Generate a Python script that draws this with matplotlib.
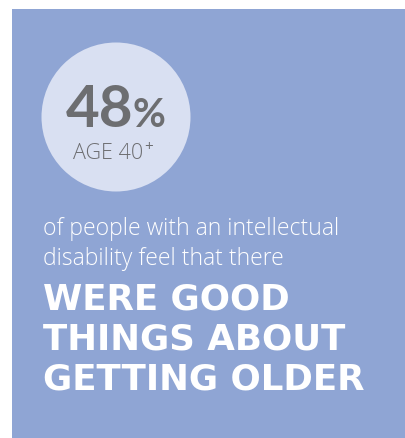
import matplotlib.pyplot as plt
from matplotlib.patches import Rectangle, Circle

# infographic content
percent_value = 48
age_label = "AGE 40"
age_suffix = "+"
intro_lines = ["of people with an intellectual", "disability feel that there"]
headline_lines = ["WERE GOOD", "THINGS ABOUT", "GETTING OLDER"]

BLUE = '#8FA5D4'
PALE = '#D9E0F2'
GREY = '#6D6E71'

W, H = 406, 439
fig = plt.figure(figsize=(W / 100, H / 100), dpi=100)
ax = fig.add_axes([0, 0, 1, 1])
ax.set_xlim(0, W)
ax.set_ylim(H, 0)
ax.axis('off')

# background panel and circle
ax.add_patch(Rectangle((12, 10), 393, 429, color=BLUE, lw=0))
ax.add_patch(Circle((116, 118), 74.5, color=PALE, lw=0))

# big number
ax.text(66, 127, str(percent_value), fontsize=42, fontweight='bold', family='Lato',
        color=GREY, ha='left', va='baseline')
ax.text(133, 127, '%', fontsize=29, fontweight='bold', family='Lato',
        color=GREY, ha='left', va='baseline')
age = ax.text(73, 159, age_label, fontsize=15.5, family='Open Sans', fontweight='light',
              color=GREY, ha='left', va='baseline')

# put the superscript right after the label
fig.canvas.draw()
bb = age.get_window_extent()
x_end = ax.transData.inverted().transform((bb.x1, bb.y0))[0]
ax.text(x_end + 1, 151, age_suffix, fontsize=11, family='Open Sans',
        color=GREY, ha='left', va='baseline')

# intro text
for i, line in enumerate(intro_lines):
    ax.text(43, 235 + i * 30, line, fontsize=16.5, family='Open Sans', fontweight='light',
            color='white', ha='left', va='baseline')

# headline
for i, line in enumerate(headline_lines):
    ax.text(43, 310 + i * 40, line, fontsize=25.7, family='DejaVu Sans', fontweight='bold',
            color='white', ha='left', va='baseline')

plt.savefig('out.png', dpi=100)
